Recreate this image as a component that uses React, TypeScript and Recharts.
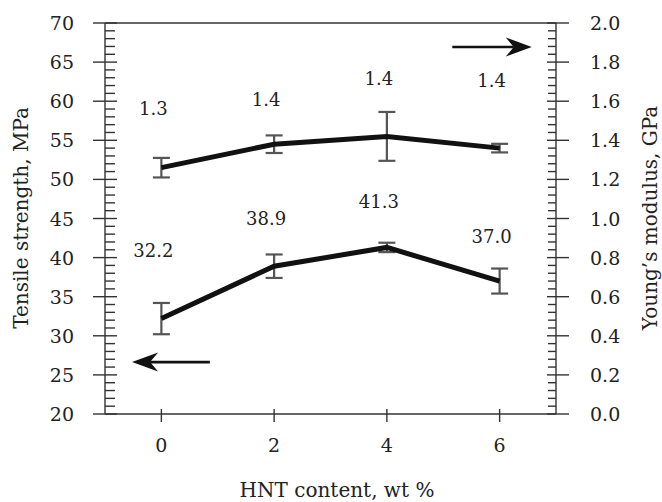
import React from "react";
import { ErrorBar, Label, LabelList, Line, LineChart, ReferenceLine, XAxis, YAxis } from "recharts";

// HNT loading (wt %) and measured properties
const hntContent = [0, 2, 4, 6];
const tensileStrength = [32.2, 38.9, 41.3, 37.0];
const tensileError = [2.0, 1.5, 0.6, 1.6];
const youngsModulus = [1.26, 1.38, 1.42, 1.36];
const modulusError = [0.05, 0.045, 0.125, 0.022];

// axis tick labels
const xTickLabels = [0, 2, 4, 6];
const leftTickLabels = ["20", "25", "30", "35", "40", "45", "50", "55", "60", "65", "70"];
const rightTickLabels = ["0.0", "0.2", "0.4", "0.6", "0.8", "1.0", "1.2", "1.4", "1.6", "1.8", "2.0"];

// label placement (pixel offsets from each point)
const tensileLabelDy = [-68, -48, -46, -45];
const modulusLabelDy = [-59, -45, -58, -68];

// direction arrows: [x from, x to, level]
const leftArrow = { from: 0.86, to: -0.52, at: 26.64 };
const rightArrow = { from: 5.16, to: 6.57, at: 1.877 };

const data = hntContent.map((hnt, i) => ({
  hnt,
  tensile: tensileStrength[i],
  tensileErr: tensileError[i],
  modulus: youngsModulus[i],
  modulusErr: modulusError[i],
}));

// 4 minor ticks between each pair of major ticks
const leftTicks = leftTickLabels
  .slice(0, -1)
  .flatMap((l) => [0, 1, 2, 3, 4].map((k) => Number(l) + k))
  .concat(Number(leftTickLabels[leftTickLabels.length - 1]));
const rightTicks = rightTickLabels
  .slice(0, -1)
  .flatMap((l) => [0, 1, 2, 3, 4].map((k) => Math.round((Number(l) + k * 0.04) * 100) / 100))
  .concat(Number(rightTickLabels[rightTickLabels.length - 1]));

const FONT = "'DejaVu Serif', 'Liberation Serif', serif";
const INK = "#222";
const AXIS = "#333";

function LeftTick({ x, y, payload }: any) {
  const v = Number(payload.value);
  const major = Math.abs(v / 5 - Math.round(v / 5)) < 1e-6;
  return (
    <g>
      {major ? (
        <line x1={x - 12} x2={x + 12} y1={y} y2={y} stroke={AXIS} strokeWidth={1.4} />
      ) : (
        <line x1={x} x2={x + 10} y1={y} y2={y} stroke={AXIS} strokeWidth={1.4} />
      )}
      {major && (
        <text x={x - 31} y={y} textAnchor="end" dominantBaseline="central" fontFamily={FONT} fontSize={19} fill={INK}>
          {v}
        </text>
      )}
    </g>
  );
}

function RightTick({ x, y, payload }: any) {
  const v = Number(payload.value);
  const major = Math.round(v / 0.04) % 5 === 0;
  return (
    <g>
      {major ? (
        <line x1={x - 9} x2={x + 13} y1={y} y2={y} stroke={AXIS} strokeWidth={1.4} />
      ) : (
        <line x1={x - 8} x2={x} y1={y} y2={y} stroke={AXIS} strokeWidth={1.4} />
      )}
      {major && (
        <text x={x + 34} y={y} textAnchor="start" dominantBaseline="central" fontFamily={FONT} fontSize={19} fill={INK}>
          {v.toFixed(1)}
        </text>
      )}
    </g>
  );
}

function BottomTick({ x, y, payload }: any) {
  return (
    <g>
      <line x1={x} x2={x} y1={y - 5} y2={y + 8} stroke={AXIS} strokeWidth={1.4} />
      <text x={x} y={y + 31} textAnchor="middle" dominantBaseline="central" fontFamily={FONT} fontSize={19} fill={INK}>
        {payload.value}
      </text>
    </g>
  );
}

const valueLabel = (dys: number[]) => (p: any) => {
  const i = p.index ?? 0;
  return (
    <text
      x={Number(p.x) - 8}
      y={Number(p.y) + dys[i]}
      textAnchor="middle"
      dominantBaseline="central"
      fontFamily={FONT}
      fontSize={18}
      fill={INK}
    >
      {Number(p.value).toFixed(1)}
    </text>
  );
};

function Arrow(props: any) {
  const { x1, y1, x2, y2 } = props;
  const ang = Math.atan2(y2 - y1, x2 - x1);
  const c = Math.cos(ang);
  const s = Math.sin(ang);
  const pt = (dx: number, dy: number) => `${x2 + dx * c - dy * s},${y2 + dx * s + dy * c}`;
  const L = 26;
  const W = 9.5;
  return (
    <g>
      <line x1={x1} y1={y1} x2={x2 - 18 * c} y2={y2 - 18 * s} stroke="#111" strokeWidth={2.6} />
      <polygon points={[pt(0, 0), pt(-L, -W), pt(-L + 8, 0), pt(-L, W)].join(" ")} fill="#111" />
    </g>
  );
}

export default function App() {
  return (
    <div style={{ position: "absolute", left: 0, top: 0, width: 662, height: 502, background: "#fff" }}>
      <LineChart width={662} height={502} data={data} margin={{ top: 23, right: 0, bottom: 0, left: 0 }}>
        <XAxis
          dataKey="hnt"
          type="number"
          domain={[-1, 7]}
          ticks={xTickLabels}
          interval={0}
          height={88}
          tickSize={0}
          tickMargin={0}
          tickLine={false}
          axisLine={{ stroke: AXIS, strokeWidth: 1.4 }}
          tick={<BottomTick />}
        >
          <Label
            content={() => (
              <text x={337} y={490} textAnchor="middle" dominantBaseline="central" fontFamily={FONT} fontSize={20} fill={INK}>
                HNT content, wt %
              </text>
            )}
          />
        </XAxis>
        <YAxis
          yAxisId="left"
          orientation="left"
          domain={[20, 70]}
          ticks={leftTicks}
          interval={0}
          width={105}
          tickSize={0}
          tickMargin={0}
          tickLine={false}
          axisLine={{ stroke: AXIS, strokeWidth: 1.4 }}
          tick={<LeftTick />}
        >
          <Label
            content={() => (
              <text
                x={21}
                y={218}
                transform="rotate(-90, 21, 218)"
                textAnchor="middle"
                dominantBaseline="central"
                fontFamily={FONT}
                fontSize={20}
                fill={INK}
              >
                Tensile strength, MPa
              </text>
            )}
          />
        </YAxis>
        <YAxis
          yAxisId="right"
          orientation="right"
          domain={[0, 2]}
          ticks={rightTicks}
          interval={0}
          width={106}
          tickSize={0}
          tickMargin={0}
          tickLine={false}
          axisLine={{ stroke: AXIS, strokeWidth: 1.4 }}
          tick={<RightTick />}
        >
          <Label
            content={() => (
              <text
                x={650}
                y={218}
                transform="rotate(-90, 650, 218)"
                textAnchor="middle"
                dominantBaseline="central"
                fontFamily={FONT}
                fontSize={20}
                fill={INK}
              >
                Young’s modulus, GPa
              </text>
            )}
          />
        </YAxis>

        <ReferenceLine yAxisId="left" y={70} stroke={AXIS} strokeWidth={1.4} ifOverflow="visible" />
        <ReferenceLine
          yAxisId="left"
          ifOverflow="visible"
          segment={[
            { x: leftArrow.from, y: leftArrow.at },
            { x: leftArrow.to, y: leftArrow.at },
          ]}
          shape={<Arrow />}
        />
        <ReferenceLine
          yAxisId="right"
          ifOverflow="visible"
          segment={[
            { x: rightArrow.from, y: rightArrow.at },
            { x: rightArrow.to, y: rightArrow.at },
          ]}
          shape={<Arrow />}
        />

        <Line
          yAxisId="left"
          dataKey="tensile"
          type="linear"
          stroke="#111"
          strokeWidth={5}
          dot={false}
          isAnimationActive={false}
        >
          <ErrorBar dataKey="tensileErr" direction="y" width={8.5} stroke="#555" strokeWidth={2.2} isAnimationActive={false} />
          <LabelList dataKey="tensile" content={valueLabel(tensileLabelDy)} />
        </Line>
        <Line
          yAxisId="right"
          dataKey="modulus"
          type="linear"
          stroke="#111"
          strokeWidth={5}
          dot={false}
          isAnimationActive={false}
        >
          <ErrorBar dataKey="modulusErr" direction="y" width={8.5} stroke="#555" strokeWidth={2.2} isAnimationActive={false} />
          <LabelList dataKey="modulus" content={valueLabel(modulusLabelDy)} />
        </Line>
      </LineChart>
    </div>
  );
}
